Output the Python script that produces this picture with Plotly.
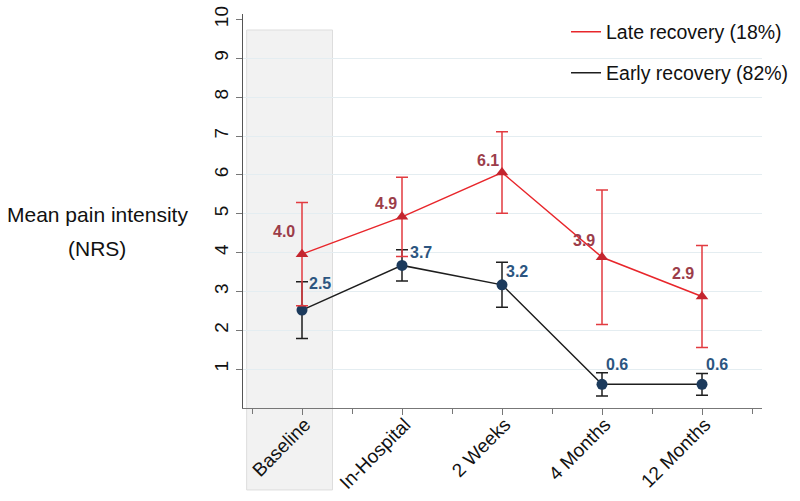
import plotly.graph_objects as go

# ---- data ----
timepoints = ["Baseline", "In-Hospital", "2 Weeks", "4 Months", "12 Months"]
late_mean = [3.96, 4.92, 6.06, 3.88, 2.87]
late_err = [1.33, 1.02, 1.05, 1.73, 1.31]
late_labels = ["4.0", "4.9", "6.1", "3.9", "2.9"]
early_mean = [2.52, 3.67, 3.17, 0.61, 0.61]
early_err = [0.73, 0.40, 0.58, 0.30, 0.28]
early_labels = ["2.5", "3.7", "3.2", "0.6", "0.6"]
y_ticks = [1, 2, 3, 4, 5, 6, 7, 8, 9, 10]
late_name = "Late recovery (18%)"
early_name = "Early recovery (82%)"

# ---- styles ----
FONT = "Liberation Sans, Arial, sans-serif"
RED_LINE = "#e8262b"
RED_ERR = "#e23b40"
RED_MARK = "#c4262f"
RED_LABEL = "#9c3d4a"
BLK_LINE = "#1e1e1e"
BLK_MARK = "#1c3a5c"
BLU_LABEL = "#2c5580"
GRID = "#e4edf1"
AXIS = "#777777"
late_offsets = [(-18, -23), (-16, -13), (-14, -12), (-18, -17), (-19, -23)]
early_offsets = [(18, -27), (19, -13), (15, -13), (15, -20), (15, -20)]

xs = list(range(len(timepoints)))

fig = go.Figure()

fig.add_trace(go.Scatter(
    x=xs, y=early_mean, mode="lines+markers", showlegend=False,
    line=dict(color=BLK_LINE, width=1.5),
    marker=dict(symbol="circle", size=11, color=BLK_MARK),
    error_y=dict(type="data", array=early_err, visible=True,
                 color=BLK_LINE, thickness=1.5, width=6),
))
fig.add_trace(go.Scatter(
    x=xs, y=late_mean, mode="lines+markers", showlegend=False,
    line=dict(color=RED_LINE, width=1.5),
    marker=dict(symbol="triangle-up", size=11, color=RED_MARK),
    error_y=dict(type="data", array=late_err, visible=True,
                 color=RED_ERR, thickness=1.5, width=6),
))

# legend-only traces
fig.add_trace(go.Scatter(x=[None], y=[None], mode="lines", name=late_name,
                         line=dict(color=RED_LINE, width=1.5), legend="legend"))
fig.add_trace(go.Scatter(x=[None], y=[None], mode="lines", name=early_name,
                         line=dict(color=BLK_LINE, width=1.5), legend="legend2"))

annotations = []
for i, (v, t) in enumerate(zip(late_mean, late_labels)):
    dx, dy = late_offsets[i]
    annotations.append(dict(x=xs[i], y=v, text=t, showarrow=False,
                            xanchor="center", yanchor="middle",
                            xshift=dx, yshift=-dy,
                            font=dict(family=FONT, size=16, color=RED_LABEL, weight="bold")))
for i, (v, t) in enumerate(zip(early_mean, early_labels)):
    dx, dy = early_offsets[i]
    annotations.append(dict(x=xs[i], y=v, text=t, showarrow=False,
                            xanchor="center", yanchor="middle",
                            xshift=dx, yshift=-dy,
                            font=dict(family=FONT, size=16, color=BLU_LABEL, weight="bold")))

# y-axis title (horizontal, two lines)
annotations.append(dict(xref="paper", yref="paper", x=-0.281, y=(408 - 214) / 394,
                        text="Mean pain intensity", showarrow=False,
                        xanchor="center", yanchor="middle",
                        font=dict(family=FONT, size=21, color="#111111")))
annotations.append(dict(xref="paper", yref="paper", x=-0.281, y=(408 - 248) / 394,
                        text="(NRS)", showarrow=False,
                        xanchor="center", yanchor="middle",
                        font=dict(family=FONT, size=21, color="#111111")))

fig.update_layout(
    width=800, height=501,
    margin=dict(l=243, r=38, t=14, b=93, autoexpand=False),
    paper_bgcolor="white", plot_bgcolor="white",
    font=dict(family=FONT, color="#111111"),
    annotations=annotations,
    shapes=[dict(type="rect", xref="paper", yref="paper",
                 x0=0.007, x1=0.1725, y0=-0.208, y1=(408 - 30) / 394,
                 fillcolor="#f2f2f2", line=dict(color="#dddddd", width=1),
                 layer="below")],
    xaxis=dict(range=[-0.59, 4.6], tickmode="array", tickvals=xs, ticktext=timepoints,
               tickangle=-45, tickfont=dict(size=19, family=FONT, color="#111111"),
               automargin=False, ticklabelstandoff=-9, ticklabelshift=3,
               showline=True, linecolor=AXIS, linewidth=1.2,
               ticks="outside", ticklen=6, tickcolor=AXIS, showgrid=False, zeroline=False,
               minor=dict(tickvals=[-0.5, 0.5, 1.5, 2.5, 3.5, 4.5], ticks="outside",
                          ticklen=5, tickcolor=AXIS, showgrid=False)),
    yaxis=dict(range=[0, 10.14], tickmode="array", tickvals=y_ticks,
               tickangle=-90, tickfont=dict(size=19, family=FONT, color="#111111"),
               automargin=False,
               showline=True, linecolor="#555555", linewidth=1.2,
               ticks="outside", ticklen=6, tickcolor=AXIS, showgrid=False, zeroline=False,
               minor=dict(tickvals=y_ticks[:-1], showgrid=True, gridcolor=GRID,
                          gridwidth=1, ticks="")),
    legend=dict(x=0.6224, y=(408 - 32) / 394, xanchor="left", yanchor="middle",
                bgcolor="rgba(0,0,0,0)", font=dict(size=19.5, family=FONT, color="#111111")),
    legend2=dict(x=0.6224, y=(408 - 73) / 394, xanchor="left", yanchor="middle",
                 bgcolor="rgba(0,0,0,0)", font=dict(size=19.5, family=FONT, color="#111111")),
)

fig.write_html(
    "out.html",
    config={"displayModeBar": False},
    post_script="document.body.style.margin='0';document.body.style.overflow='hidden';",
)
